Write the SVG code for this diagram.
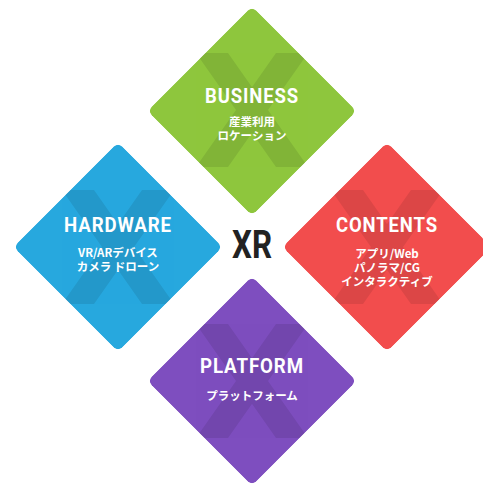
<svg xmlns="http://www.w3.org/2000/svg" width="483" height="484" viewBox="0 0 483 484">
<defs>
<style>
.title{font-family:Roboto,"Liberation Sans",sans-serif;font-weight:700;font-size:21px;fill:#fff;text-anchor:middle;letter-spacing:1px}
.sub{font-family:"Noto Sans CJK JP","Noto Sans",sans-serif;font-weight:700;font-size:11.5px;fill:#fff;text-anchor:middle}
.xr{font-family:Roboto,"Liberation Sans",sans-serif;font-weight:700;font-size:38px;fill:#222;text-anchor:middle}
</style>
<clipPath id="dclip"><rect x="-74" y="-74" width="148" height="148" rx="6" transform="rotate(45)"/></clipPath>
<g id="xmark">
<g opacity="0.09" fill="#000">
<polygon points="-56,-57 -24,-57 56,57 24,57"/>
<polygon points="56,-57 24,-57 -56,57 -24,57"/>
</g>
</g>
<rect id="dshape" x="-74" y="-74" width="148" height="148" rx="6" transform="rotate(45)"/>
</defs>
<rect width="483" height="484" fill="#fff"/>
<g id="business">
<g transform="translate(252,111)" clip-path="url(#dclip)">
<use href="#dshape" fill="#8ec63d"/>
<use href="#xmark" y="-1"/>
</g>
<text class="title" x="252" y="103" textLength="94" lengthAdjust="spacingAndGlyphs">BUSINESS</text>
<text class="sub" x="252" y="126">産業利用<tspan x="252" dy="14">ロケーション</tspan></text>
</g>
<g id="hardware">
<g transform="translate(118,247)" clip-path="url(#dclip)">
<use href="#dshape" fill="#27a8de"/>
<use href="#xmark"/>
</g>
<text class="title" x="118" y="232" textLength="108" lengthAdjust="spacingAndGlyphs">HARDWARE</text>
<text class="sub" x="118" y="257">VR/ARデバイス<tspan x="118" dy="14">カメラ ドローン</tspan></text>
</g>
<g id="contents">
<g transform="translate(387,247)" clip-path="url(#dclip)">
<use href="#dshape" fill="#f24d4d"/>
<use href="#xmark"/>
</g>
<text class="title" x="387" y="232" textLength="102" lengthAdjust="spacingAndGlyphs">CONTENTS</text>
<text class="sub" x="387" y="258">アプリ/Web<tspan x="387" dy="14">パノラマ/CG</tspan><tspan x="387" dy="14">インタラクティブ</tspan></text>
</g>
<g id="platform">
<g transform="translate(252,381)" clip-path="url(#dclip)">
<use href="#dshape" fill="#7e4ebf"/>
<use href="#xmark"/>
</g>
<text class="title" x="252" y="373" textLength="104" lengthAdjust="spacingAndGlyphs">PLATFORM</text>
<text class="sub" x="252" y="400">プラットフォーム</text>
</g>
<g id="xr">
<text class="xr" x="252" y="258" textLength="40" lengthAdjust="spacingAndGlyphs">XR</text>
</g>
<g id="connectors"/>
</svg>
